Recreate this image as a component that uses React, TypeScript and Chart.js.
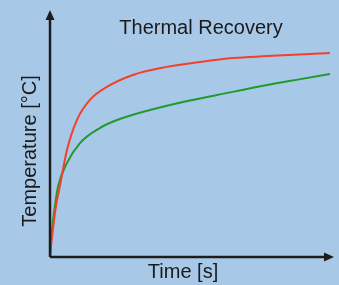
import React, { useEffect, useRef } from "react";
import { Chart, registerables } from "chart.js";

Chart.register(...registerables);

const redTime = [0, 0.5, 1, 2, 3.5, 6, 9.5, 14.1, 20.1, 29.3, 41.3, 53, 64.7, 76.7, 88, 98.9];
const redTemp = [0, 6, 11, 20, 29, 43.7, 55.9, 64.1, 69.4, 74.3, 77.6, 79.6, 81.2, 82.0, 82.7, 83.3];
const greenTime = [0, 0.5, 1, 2, 2.8, 6, 10.6, 17.7, 23.7, 35.3, 47, 59, 76.7, 88, 98.9];
const greenTemp = [0, 8, 14, 23, 28.6, 38.4, 46.5, 52.7, 55.9, 60.0, 63.3, 66.1, 70.2, 72.5, 74.7];
const chartTitle = "Thermal Recovery";
const xTitle = "Time [s]";
const yTitle = "Temperature [°C]";

const BG = "#a8c8e8";
const AXIS = "#1c1c1c";
const FONT = "'Liberation Sans', Arial, sans-serif";

const axesPlugin = {
  id: "arrowAxes",
  afterDraw(chart: any) {
    const { ctx, chartArea } = chart;
    const { left, right, top, bottom } = chartArea;
    ctx.save();
    ctx.strokeStyle = AXIS;
    ctx.fillStyle = AXIS;
    ctx.lineWidth = 2.5;
    ctx.beginPath();
    ctx.moveTo(left, bottom);
    ctx.lineTo(left, top + 4);
    ctx.moveTo(left, bottom);
    ctx.lineTo(right - 4, bottom);
    ctx.stroke();
    ctx.beginPath();
    ctx.moveTo(left, top - 2);
    ctx.lineTo(left - 4.5, top + 8);
    ctx.lineTo(left + 4.5, top + 8);
    ctx.closePath();
    ctx.fill();
    ctx.beginPath();
    ctx.moveTo(right + 1, bottom);
    ctx.lineTo(right - 9, bottom - 4.5);
    ctx.lineTo(right - 9, bottom + 4.5);
    ctx.closePath();
    ctx.fill();

    ctx.fillStyle = "#1a1a1a";
    ctx.textAlign = "center";
    ctx.textBaseline = "middle";
    ctx.font = `20px ${FONT}`;
    ctx.fillText(chartTitle, left + 151, top + 16);
    ctx.fillText(xTitle, left + 133, bottom + 15);
    ctx.translate(left - 20, top + 139);
    ctx.rotate(-Math.PI / 2);
    ctx.fillText(yTitle, 0, 0);
    ctx.restore();
  },
};

export default function App() {
  const ref = useRef<HTMLCanvasElement | null>(null);
  useEffect(() => {
    if (!ref.current) return;
    const chart = new Chart(ref.current, {
      type: "line",
      data: {
        datasets: [
          {
            data: redTime.map((t, i) => ({ x: t, y: redTemp[i] })),
            borderColor: "#f2402c",
            borderWidth: 2,
            pointRadius: 0,
            cubicInterpolationMode: "monotone",
          },
          {
            data: greenTime.map((t, i) => ({ x: t, y: greenTemp[i] })),
            borderColor: "#1f9a2e",
            borderWidth: 2,
            pointRadius: 0,
            cubicInterpolationMode: "monotone",
          },
        ],
      },
      options: {
        animation: false,
        responsive: false,
        layout: { padding: { left: 50, right: 6, top: 12, bottom: 28 } },
        plugins: { legend: { display: false }, tooltip: { enabled: false } },
        scales: {
          x: { type: "linear", min: 0, max: 100, display: false },
          y: { min: 0, max: 100, display: false },
        },
      },
      plugins: [axesPlugin],
    });
    return () => chart.destroy();
  }, []);
  return (
    <div style={{ position: "fixed", left: 0, top: 0, width: 339, height: 285, background: BG }}>
      <canvas ref={ref} width={339} height={285} style={{ display: "block" }} />
    </div>
  );
}
